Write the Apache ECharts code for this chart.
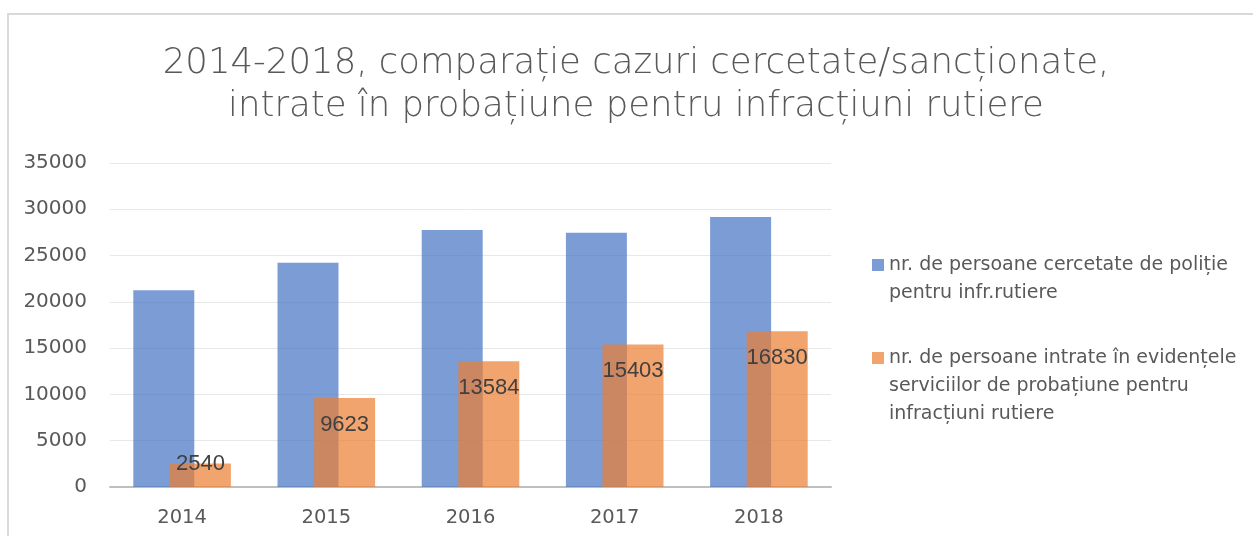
<!DOCTYPE html>
<html>
<head>
<meta charset="utf-8">
<script src="https://cdn.jsdelivr.net/npm/echarts@6/dist/echarts.min.js"></script>
<style>html,body{margin:0;padding:0;background:#fff}#c{width:1253px;height:536px}</style>
</head>
<body>
<div id="c"></div>
<script>
const titleText = '2014-2018, comparație cazuri cercetate/sancționate,\nintrate în probațiune pentru infracțiuni rutiere';
const categories = ['2014', '2015', '2016', '2017', '2018'];
const seriesNames = ['nr. de persoane cercetate de poliție pentru infr.rutiere',
  'nr. de persoane intrate în evidențele serviciilor de probațiune pentru infracțiuni rutiere'];
const legendLines = [
  ['nr. de persoane cercetate de poliție', 'pentru infr.rutiere'],
  ['nr. de persoane intrate în evidențele', 'serviciilor de probațiune pentru', 'infracțiuni rutiere']
];
const policeValues = [21250, 24230, 27760, 27470, 29170];
const probationValues = [2540, 9623, 13584, 15403, 16830];
const yTicks = [0, 5000, 10000, 15000, 20000, 25000, 30000, 35000];

const SANS = '"Liberation Sans", Arial, sans-serif';
const WIDE = '"DejaVu Sans", Verdana, sans-serif';
const GRAY = '#595959';
const LH = 28;

const chart = echarts.init(document.getElementById('c'), null, {renderer: 'canvas'});

// the legend icon is centred on the text block, so pad the top with blank lines
// so that the icon lines up with the first line of each entry
function legendFor(i, top) {
  const lines = legendLines[i];
  const pad = new Array(lines.length - 1).fill('\u00a0');
  return {
    data: [seriesNames[i]],
    left: 872, top: top, padding: 0, orient: 'vertical',
    itemWidth: 12, itemHeight: 12, icon: 'rect',
    formatter: () => pad.concat(lines).join('\n'),
    textStyle: {fontFamily: WIDE, fontSize: 19, color: GRAY, lineHeight: LH}
  };
}

chart.setOption({
  animation: false,
  title: {
    text: titleText, left: 631, textAlign: 'center', top: 37,
    textStyle: {fontFamily: WIDE, fontSize: 35.5, fontWeight: 300, color: GRAY, lineHeight: 43}
  },
  graphic: [{
    type: 'rect', shape: {x: 8, y: 14, width: 1400, height: 700},
    style: {fill: 'none', stroke: '#d9d9d9', lineWidth: 2}, silent: true
  }],
  legend: [legendFor(0, 223), legendFor(1, 288)],
  grid: {left: 110, right: 422, top: 163, bottom: 49, containLabel: false},
  xAxis: {
    type: 'category', data: categories,
    axisTick: {show: false},
    axisLine: {lineStyle: {color: '#bfbfbf', width: 2}},
    axisLabel: {fontFamily: WIDE, fontSize: 19.5, color: GRAY, margin: 21}
  },
  yAxis: {
    type: 'value', min: yTicks[0], max: yTicks[yTicks.length - 1], interval: 5000,
    axisLine: {show: false}, axisTick: {show: false},
    splitLine: {lineStyle: {color: '#e8e8e8', width: 1}},
    axisLabel: {fontFamily: WIDE, fontSize: 20, color: GRAY, margin: 23, formatter: v => String(v)}
  },
  series: [
    {
      name: seriesNames[0], type: 'bar', data: policeValues,
      barWidth: 61, barGap: '-40%',
      itemStyle: {color: 'rgba(68,114,196,0.7)'}
    },
    {
      name: seriesNames[1], type: 'bar',
      data: probationValues.map(v => v < 5000 ? {value: v, label: {position: 'top', distance: -11}} : v),
      barWidth: 61,
      itemStyle: {color: 'rgba(237,125,49,0.7)'},
      label: {show: true, position: 'insideTop', distance: 16, fontFamily: SANS, fontSize: 22, color: '#404040'}
    }
  ]
});
</script>
</body>
</html>
